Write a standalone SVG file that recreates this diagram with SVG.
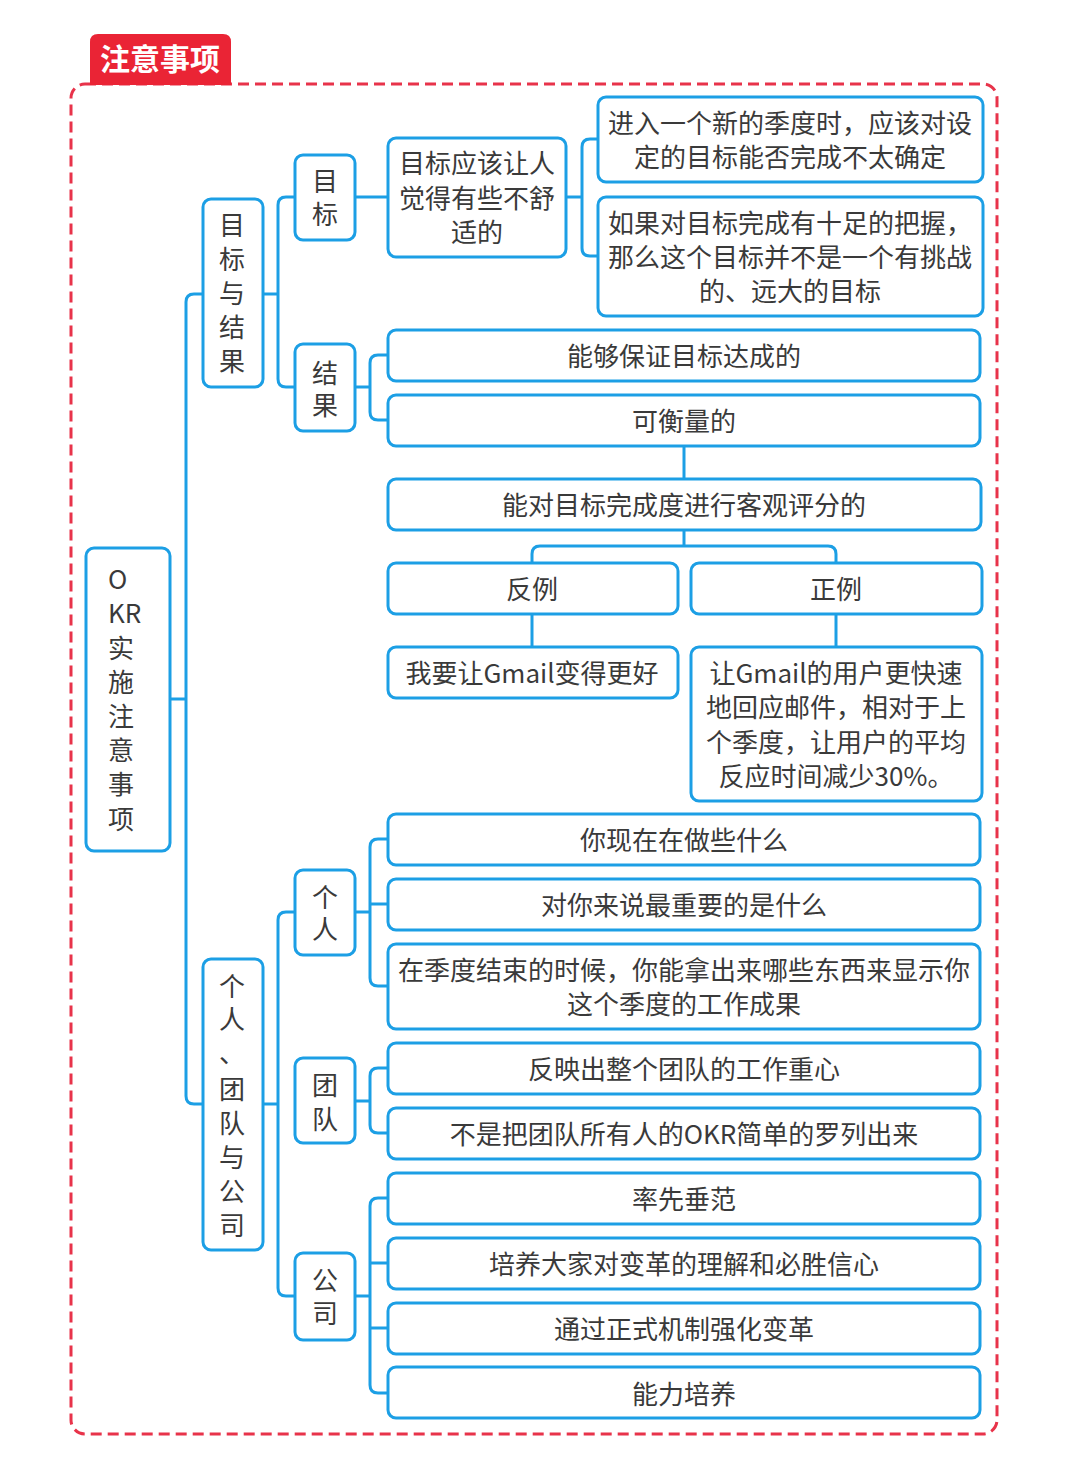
<svg xmlns="http://www.w3.org/2000/svg" width="1080" height="1461" viewBox="0 0 1080 1461">
<style>
.n{fill:#fff;stroke:#1c9fe5;stroke-width:3}
.c{fill:none;stroke:#1c9fe5;stroke-width:3}
text{font-family:"Noto Sans CJK SC","Noto Sans",sans-serif;font-size:26px;fill:#3a3a3a}
.m{text-anchor:middle;dominant-baseline:central}
.l{dominant-baseline:central}
</style>
<rect x="0" y="0" width="1080" height="1461" fill="#fff"/>
<rect x="71" y="84" width="926" height="1350" rx="14" fill="none" stroke="#e8334a" stroke-width="3" stroke-dasharray="11 6"/>
<g id="title">
<path d="M90 85 V42 Q90 34 98 34 H223 Q231 34 231 42 V85 Z" fill="#ea2435"/>
<text x="160" y="70" text-anchor="middle" style="font-size:30px;font-weight:bold;fill:#fff">注意事项</text>
</g>
<g id="connectors">
<path class="c" d="M170 699 H186"/>
<path class="c" d="M203 294 H194 Q186 294 186 302 V1096 Q186 1104 194 1104 H203"/>
<path class="c" d="M263 294 H278"/>
<path class="c" d="M295 197 H286 Q278 197 278 205 V379 Q278 387 286 387 H295"/>
<path class="c" d="M355 197 H388"/>
<path class="c" d="M566 197 H582"/>
<path class="c" d="M598 139 H590 Q582 139 582 147 V248 Q582 256 590 256 H598"/>
<path class="c" d="M355 387 H370"/>
<path class="c" d="M388 355 H378 Q370 355 370 363 V412 Q370 420 378 420 H388"/>
<path class="c" d="M684 446 V479"/>
<path class="c" d="M684 530 V546"/>
<path class="c" d="M532 563 V554 Q532 546 540 546 H828 Q836 546 836 554 V563"/>
<path class="c" d="M532 614 V647"/>
<path class="c" d="M836 614 V647"/>
<path class="c" d="M263 1104 H278"/>
<path class="c" d="M295 912 H286 Q278 912 278 920 V1288 Q278 1296 286 1296 H295"/>
<path class="c" d="M355 912 H370"/>
<path class="c" d="M388 839 H378 Q370 839 370 847 V978 Q370 986 378 986 H388"/>
<path class="c" d="M370 904 H388"/>
<path class="c" d="M355 1101 H370"/>
<path class="c" d="M388 1068 H378 Q370 1068 370 1076 V1125 Q370 1133 378 1133 H388"/>
<path class="c" d="M355 1296 H370"/>
<path class="c" d="M388 1198 H378 Q370 1198 370 1206 V1385 Q370 1393 378 1393 H388"/>
<path class="c" d="M370 1263 H388"/>
<path class="c" d="M370 1328 H388"/>
</g>
<g id="root">
<rect class="n" x="86" y="548" width="84" height="303" rx="8"/>
<text class="l"><tspan x="108" y="577">O</tspan><tspan x="108" y="611">KR</tspan><tspan x="108" y="646">实</tspan><tspan x="108" y="680">施</tspan><tspan x="108" y="714">注</tspan><tspan x="108" y="748">意</tspan><tspan x="108" y="782">事</tspan><tspan x="108" y="817">项</tspan></text>
</g>
<g id="goal-result">
<rect class="n" x="203" y="199" width="60" height="188" rx="8"/>
<text class="m"><tspan x="232" y="223">目</tspan><tspan x="232" y="257">标</tspan><tspan x="232" y="291">与</tspan><tspan x="232" y="325">结</tspan><tspan x="232" y="359">果</tspan></text>
</g>
<g id="goal">
<rect class="n" x="295" y="155" width="60" height="85" rx="8"/>
<text class="m"><tspan x="325" y="179">目</tspan><tspan x="325" y="212">标</tspan></text>
</g>
<g id="goal-uncomfortable">
<rect class="n" x="388" y="138" width="178" height="119" rx="8"/>
<text class="m"><tspan x="477" y="161">目标应该让人</tspan><tspan x="477" y="196">觉得有些不舒</tspan><tspan x="477" y="230">适的</tspan></text>
</g>
<g id="goal-uncertain">
<rect class="n" x="598" y="97" width="385" height="85" rx="8"/>
<text class="m"><tspan x="790" y="121">进入一个新的季度时，应该对设</tspan><tspan x="790" y="155">定的目标能否完成不太确定</tspan></text>
</g>
<g id="goal-challenge">
<rect class="n" x="598" y="197" width="385" height="119" rx="8"/>
<text class="m"><tspan x="790" y="221">如果对目标完成有十足的把握，</tspan><tspan x="790" y="255">那么这个目标并不是一个有挑战</tspan><tspan x="790" y="289">的、远大的目标</tspan></text>
</g>
<g id="result">
<rect class="n" x="295" y="344" width="60" height="87" rx="8"/>
<text class="m"><tspan x="325" y="371">结</tspan><tspan x="325" y="403">果</tspan></text>
</g>
<g id="result-guarantee">
<rect class="n" x="388" y="330" width="592" height="51" rx="8"/>
<text class="m" x="684" y="354">能够保证目标达成的</text>
</g>
<g id="result-measurable">
<rect class="n" x="388" y="395" width="592" height="51" rx="8"/>
<text class="m" x="684" y="419">可衡量的</text>
</g>
<g id="result-objective">
<rect class="n" x="388" y="479" width="593" height="51" rx="8"/>
<text class="m" x="684" y="503">能对目标完成度进行客观评分的</text>
</g>
<g id="counter-example">
<rect class="n" x="388" y="563" width="290" height="51" rx="8"/>
<text class="m" x="532" y="587">反例</text>
</g>
<g id="positive-example">
<rect class="n" x="691" y="563" width="291" height="51" rx="8"/>
<text class="m" x="836" y="587">正例</text>
</g>
<g id="counter-text">
<rect class="n" x="388" y="647" width="290" height="51" rx="8"/>
<text class="m" x="532" y="671">我要让Gmail变得更好</text>
</g>
<g id="positive-text">
<rect class="n" x="691" y="647" width="291" height="154" rx="8"/>
<text class="m"><tspan x="836" y="671">让Gmail的用户更快速</tspan><tspan x="836" y="705">地回应邮件，相对于上</tspan><tspan x="836" y="740">个季度，让用户的平均</tspan><tspan x="836" y="774">反应时间减少30%。</tspan></text>
</g>
<g id="people">
<rect class="n" x="203" y="959" width="60" height="291" rx="8"/>
<text class="m"><tspan x="232" y="984">个</tspan><tspan x="232" y="1017">人</tspan><tspan x="232" y="1051">、</tspan><tspan x="232" y="1087">团</tspan><tspan x="232" y="1121">队</tspan><tspan x="232" y="1155">与</tspan><tspan x="232" y="1189">公</tspan><tspan x="232" y="1223">司</tspan></text>
</g>
<g id="individual">
<rect class="n" x="295" y="870" width="60" height="85" rx="8"/>
<text class="m"><tspan x="325" y="895">个</tspan><tspan x="325" y="927">人</tspan></text>
</g>
<g id="ind-1">
<rect class="n" x="388" y="814" width="592" height="51" rx="8"/>
<text class="m" x="684" y="838">你现在在做些什么</text>
</g>
<g id="ind-2">
<rect class="n" x="388" y="879" width="592" height="51" rx="8"/>
<text class="m" x="684" y="903">对你来说最重要的是什么</text>
</g>
<g id="ind-3">
<rect class="n" x="388" y="944" width="592" height="85" rx="8"/>
<text class="m"><tspan x="684" y="968">在季度结束的时候，你能拿出来哪些东西来显示你</tspan><tspan x="684" y="1002">这个季度的工作成果</tspan></text>
</g>
<g id="team">
<rect class="n" x="295" y="1058" width="60" height="85" rx="8"/>
<text class="m"><tspan x="325" y="1083">团</tspan><tspan x="325" y="1117">队</tspan></text>
</g>
<g id="team-1">
<rect class="n" x="388" y="1043" width="592" height="51" rx="8"/>
<text class="m" x="684" y="1067">反映出整个团队的工作重心</text>
</g>
<g id="team-2">
<rect class="n" x="388" y="1108" width="592" height="51" rx="8"/>
<text class="m" x="684" y="1132">不是把团队所有人的OKR简单的罗列出来</text>
</g>
<g id="company">
<rect class="n" x="295" y="1253" width="60" height="87" rx="8"/>
<text class="m"><tspan x="325" y="1278">公</tspan><tspan x="325" y="1311">司</tspan></text>
</g>
<g id="co-1">
<rect class="n" x="388" y="1173" width="592" height="51" rx="8"/>
<text class="m" x="684" y="1197">率先垂范</text>
</g>
<g id="co-2">
<rect class="n" x="388" y="1238" width="592" height="51" rx="8"/>
<text class="m" x="684" y="1262">培养大家对变革的理解和必胜信心</text>
</g>
<g id="co-3">
<rect class="n" x="388" y="1303" width="592" height="51" rx="8"/>
<text class="m" x="684" y="1327">通过正式机制强化变革</text>
</g>
<g id="co-4">
<rect class="n" x="388" y="1367" width="592" height="51" rx="8"/>
<text class="m" x="684" y="1392">能力培养</text>
</g>
</svg>
